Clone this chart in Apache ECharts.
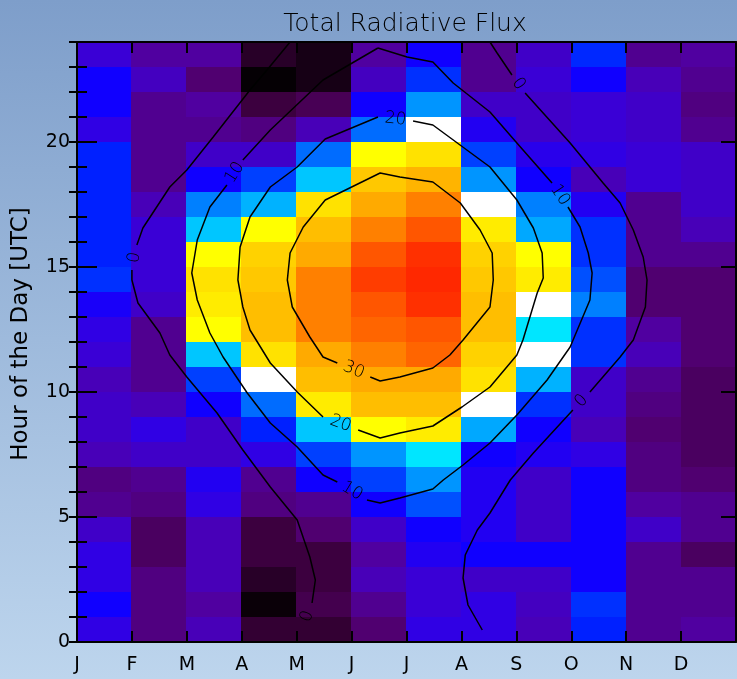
<!DOCTYPE html>
<html>
<head>
<meta charset="utf-8">
<title>Total Radiative Flux</title>
<script src="https://cdn.jsdelivr.net/npm/echarts@6/dist/echarts.min.js"></script>
<style>
  html, body { margin: 0; padding: 0; }
  #chart { width: 737px; height: 679px; }
</style>
</head>
<body>
<div id="chart"></div>
<script>
// Month initials along the x axis (ticks sit on month boundaries)
const monthLetters = ['J', 'F', 'M', 'A', 'M', 'J', 'J', 'A', 'S', 'O', 'N', 'D'];
// Labelled hour ticks on the y axis
const hourTicks = [0, 5, 10, 15, 20];
const allHours = Array.from({ length: 25 }, (_, i) => i);
const monthEdges = Array.from({ length: 13 }, (_, i) => i);

// Mean flux per month, hour 0 UTC first
const jan = [1, 3, 1, 1, -1, -4, -5, -2, -1, -1, -2, 0, 1, 2.5, 5, 4, 4, 4, 4, 4, 1, 3, 3, 0];
const feb = [-5, -5, -5, -7, -7, -5, -4, -1, 1, -2, -4, -4, -4, -1, 0, 0, 0, -2, -4, -4, -4, -4, -1.5, -3];
const mar = [-2, -3, -2, -2, -2, 1, 2, -1, -1, 3, 6, 12.5, 17, 19, 20, 17, 12.5, 8.5, 3, -1, -4, -3, -6, -3];
const apr = [-10.5, -14, -11.5, -9.5, -9.5, -5, -4, 1, 4, 7.5, 16, 20, 25, 25, 24, 22, 17, 11.5, 6, -1, -5, -9.5, -14.5, -11.5];
const may = [-10.5, -8.5, -9.5, -9.5, -6, -4, 3, 6, 12.5, 19, 25, 27, 31, 31, 31, 27, 25, 20, 12.5, 7.5, -2, -8, -13, -13];
const jun = [-6, -4, -2, -3, -1, 3, 6, 10, 17, 25, 27, 31, 33.5, 35, 37.5, 35, 31, 27, 24, 17, 7.5, 3, -1.5, -3];
const jul = [1, 0, 0, 2, 3, 6.5, 10, 14, 19, 25, 27, 33.5, 35, 39, 40, 39, 35, 31, 26, 20, 16, 10, 5, 3];
const aug = [1, 1, -1, 3, 2, 2, 2, 3, 11, 16, 20, 22, 25, 25, 24, 22, 19, 16, 10, 6, 2, -1, -4, -4];
const sep = [-2, -1.5, -1, 3, -1, -1, -1, 2, 3, 5, 11.5, 16, 14, 16, 19, 17, 11, 8.5, 3, 1.5, -1, -1, 0, -1];
const oct = [4, 5, 3, 3, 3, 3, 3, 1, -2, -1, -1, 5, 5, 8.5, 6.5, 5, 5, 2, -2, 1, 0, 0, 3, 4.5];
const nov = [-4, -4, -4, -4, -1, -3, -5, -5, -6, -5, -4, -2, -3, -6, -6, -4, -4, -4, 0, 0, -1, -1, -2, -4];
const dec = [-3, -4, -4, -7, -4, -4, -6, -7, -7, -7, -7, -6, -6, -6, -6, -4, -2, -1, -1, -1, -4, -5, -4, -3];
const fluxByMonth = [jan, feb, mar, apr, may, jun, jul, aug, sep, oct, nov, dec];

// Contour paths as [month, hour] points; null marks where the level label sits
const contourLevels = [0, 10, 20, 30, 0];
const contour0West = [
  [3.88, 24.0], [3.46, 22.88], [3.15, 22.08], [2.48, 20.2], [2.0, 18.88], [1.69, 18.2],
  [1.2, 16.56], [1.09, 15.88], null, [1.0, 14.88], [1.0, 14.48], [1.11, 13.56],
  [1.51, 12.36], [1.69, 11.48], [2.0, 10.6], [2.55, 9.16], [3.02, 7.68], [3.52, 6.2],
  [4.01, 4.88], [4.24, 3.4], [4.34, 2.48], [4.28, 1.56], null, [4.1, 0.48]
];
const contour10 = [
  [5.48, 23.76], [4.48, 22.48], [3.52, 20.48], [3.02, 19.28], null, [2.73, 18.28],
  [2.42, 17.4], [2.19, 16.08], [2.09, 14.76], [2.19, 13.68], [2.42, 12.36], [2.66, 11.4],
  [3.1, 9.96], [3.52, 8.76], [4.01, 7.8], [4.48, 6.68], [4.74, 6.4], null,
  [5.28, 5.68], [5.52, 5.56], [5.88, 5.76], [6.48, 6.12], [6.67, 6.48], [7.03, 7.08],
  [7.52, 7.96], [8.01, 9.08], [8.56, 10.48], [8.98, 11.8], [9.34, 13.68], [9.38, 14.76],
  [9.31, 15.56], [9.16, 16.6], [8.94, 17.4], null, [8.65, 18.36], [8.01, 19.96],
  [7.52, 21.2], [6.85, 22.36], [6.48, 23.2], [6.01, 23.4], [5.48, 23.76]
];
const contour20 = [
  [6.12, 20.84], [6.48, 20.68], [7.52, 19.0], [8.01, 17.68], [8.31, 16.56], [8.47, 15.56],
  [8.49, 14.56], [8.38, 13.96], [8.12, 12.08], [8.01, 11.48], [7.52, 10.2], [7.01, 9.4],
  [6.48, 8.64], [5.88, 8.36], [5.52, 8.16], [5.12, 8.48], null, [4.48, 9.0],
  [4.01, 10.0], [3.52, 11.16], [3.15, 12.48], [3.02, 13.4], [2.93, 14.48], [2.97, 15.8],
  [3.15, 17.0], [3.52, 18.2], [4.01, 19.0], [4.52, 20.12], [5.48, 21.0], null, [6.12, 20.84]
];
const contour30 = [
  [5.34, 10.6], [5.52, 10.44], [5.88, 10.6], [6.48, 10.96], [6.79, 11.48], [7.03, 12.08],
  [7.52, 13.4], [7.58, 14.48], [7.56, 15.56], [7.34, 16.48], [6.98, 17.56], [6.48, 18.4],
  [5.88, 18.6], [5.52, 18.76], [4.52, 17.68], [4.12, 16.6], [3.88, 15.56], [3.83, 14.48],
  [3.92, 13.4], [4.24, 12.2], [4.48, 11.4], [4.74, 11.16], null, [5.34, 10.6]
];
const contour0East = [
  [7.52, 24.0], [7.65, 23.56], [7.92, 22.68], null, [8.16, 21.96], [8.98, 19.96],
  [9.58, 18.36], [9.89, 17.56], [10.13, 16.48], [10.31, 15.4], [10.38, 14.48], [10.35, 13.4],
  [10.13, 12.08], [9.89, 11.4], [9.34, 10.0], null, [9.03, 9.28], [8.31, 7.56],
  [7.89, 6.48], [7.52, 5.16], [7.29, 4.48], [7.07, 3.48], [7.03, 2.56], [7.12, 1.48], [7.38, 0.48]
];
const contourPaths = [contour0West, contour10, contour20, contour30, contour0East];

// Colour scale: dark purple through blue and cyan, white, then yellow to red
const colourStops = [
  [-15, '#000000'], [-14, '#0a0008'], [-12, '#220022'], [-10, '#380038'], [-8, '#480055'],
  [-7, '#4a0060'], [-6, '#500070'], [-5, '#500080'], [-4, '#500090'], [-3, '#5000a0'],
  [-2, '#4800b8'], [-1, '#4000c8'], [0, '#3a00d6'], [1, '#3000e4'], [2, '#2200f2'],
  [3, '#1000ff'], [4, '#0020ff'], [5, '#0030ff'], [6, '#0040ff'], [7, '#0060ff'],
  [8, '#0078ff'], [9, '#0088ff'], [10, '#0095ff'], [11, '#00a8ff'], [12, '#00bcff'],
  [13, '#00cfff'], [14, '#00e6ff'], [15, '#00f0ff'], [16, '#ffffff'], [17, '#ffff00'],
  [20, '#ffe200'], [22, '#ffd200'], [24, '#ffc800'], [26, '#ffb400'], [28, '#ffa000'],
  [31, '#ff8000'], [34, '#ff6000'], [36, '#ff4c00'], [38, '#ff3800'], [40, '#ff2800']
];
function hexToRgb(h) {
  return [parseInt(h.slice(1, 3), 16), parseInt(h.slice(3, 5), 16), parseInt(h.slice(5, 7), 16)];
}
function colourAt(v) {
  if (v <= colourStops[0][0]) return colourStops[0][1];
  for (let i = 1; i < colourStops.length; i++) {
    const [v1, c1] = colourStops[i];
    if (v <= v1) {
      const [v0, c0] = colourStops[i - 1];
      const t = (v - v0) / (v1 - v0);
      const a = hexToRgb(c0), b = hexToRgb(c1);
      const mix = a.map((x, k) => Math.round(x + (b[k] - x) * t));
      return 'rgb(' + mix.join(',') + ')';
    }
  }
  return colourStops[colourStops.length - 1][1];
}

// Cell data: [month index, hour, flux]
const cells = [];
fluxByMonth.forEach((col, m) => col.forEach((v, h) => cells.push([m, h, v])));

// Split each contour into drawable segments and collect label spots at the gaps
const contourSeries = [];
const contourLabels = [];
contourPaths.forEach((path, ci) => {
  let seg = [];
  path.forEach((p, i) => {
    if (p === null) {
      contourSeries.push(seg);
      contourLabels.push({
        level: contourLevels[ci],
        from: path[i - 1],
        to: path[i + 1]
      });
      seg = [];
    } else {
      seg.push(p);
    }
  });
  if (seg.length) contourSeries.push(seg);
});

const textFont = 'DejaVu Sans';
const chart = echarts.init(document.getElementById('chart'));

const yBase = {
  type: 'value', min: 0, max: 24, z: 10,
  splitLine: { show: false }
};
const xBase = {
  type: 'value', min: 0, max: 12, z: 10,
  splitLine: { show: false }
};

chart.setOption({
  backgroundColor: {
    type: 'linear', x: 0, y: 0, x2: 0, y2: 1,
    colorStops: [
      { offset: 0, color: '#7e9eca' },
      { offset: 0.5, color: '#9ebadc' },
      { offset: 1, color: '#bdd5ed' }
    ]
  },
  animation: false,
  title: {
    text: 'Total Radiative Flux',
    left: 400,
    top: 7,
    textAlign: 'center',
    textStyle: { fontFamily: textFont, fontSize: 25, fontWeight: 'lighter', color: '#000' }
  },
  grid: { left: 77, right: 1, top: 42, bottom: 37, outerBoundsMode: 'none', containLabel: false },
  xAxis: [
    Object.assign({}, xBase, {
      position: 'bottom',
      axisLine: { show: true, onZero: false, lineStyle: { color: '#000', width: 2 } },
      axisTick: { show: true, inside: true, length: 11, customValues: monthEdges, lineStyle: { color: '#000', width: 2 } },
      axisLabel: {
        show: true, margin: 14, customValues: monthEdges.slice(0, 12),
        formatter: v => monthLetters[v] || '',
        fontFamily: textFont, fontSize: 19, color: '#000'
      }
    }),
    Object.assign({}, xBase, {
      position: 'top',
      axisLine: { show: true, onZero: false, lineStyle: { color: '#000', width: 2 } },
      axisTick: { show: true, inside: true, length: 11, customValues: monthEdges, lineStyle: { color: '#000', width: 2 } },
      axisLabel: { show: false }
    })
  ],
  yAxis: [
    Object.assign({}, yBase, {
      position: 'left',
      name: 'Hour of the Day [UTC]',
      nameLocation: 'middle',
      nameGap: 44,
      nameTextStyle: { fontFamily: textFont, fontSize: 23, color: '#000', padding: [0, 0, 0, 16] },
      axisLine: { show: true, onZero: false, lineStyle: { color: '#000', width: 2 } },
      axisTick: { show: true, inside: true, length: 20, customValues: hourTicks, lineStyle: { color: '#000', width: 2 } },
      axisLabel: {
        show: true, margin: 7, customValues: hourTicks,
        fontFamily: textFont, fontSize: 19, color: '#000'
      }
    }),
    Object.assign({}, yBase, {
      position: 'left',
      axisLine: { show: false },
      axisTick: { show: true, inside: true, length: 10, customValues: allHours, lineStyle: { color: '#000', width: 2 } },
      axisLabel: { show: false }
    }),
    Object.assign({}, yBase, {
      position: 'right',
      axisLine: { show: true, onZero: false, lineStyle: { color: '#000', width: 2 } },
      axisTick: { show: true, inside: true, length: 15, customValues: hourTicks, lineStyle: { color: '#000', width: 2 } },
      axisLabel: { show: false }
    }),
    Object.assign({}, yBase, {
      position: 'right',
      axisLine: { show: false },
      axisTick: { show: true, inside: true, length: 8, customValues: allHours, lineStyle: { color: '#000', width: 2 } },
      axisLabel: { show: false }
    })
  ],
  series: [
    {
      type: 'custom',
      name: 'flux',
      xAxisIndex: 0,
      yAxisIndex: 0,
      encode: { x: 0, y: 1 },
      data: cells,
      z: 1,
      renderItem: (params, api) => {
        const m = api.value(0), h = api.value(1);
        const p0 = api.coord([m, h + 1]);
        const p1 = api.coord([m + 1, h]);
        const x0 = Math.floor(p0[0]), y0 = Math.floor(p0[1]);
        const x1 = Math.ceil(p1[0]), y1 = Math.ceil(p1[1]);
        return {
          type: 'rect',
          shape: { x: x0, y: y0, width: x1 - x0, height: y1 - y0 },
          style: { fill: colourAt(api.value(2)) }
        };
      }
    }
  ].concat(contourSeries.map(seg => ({
    type: 'line',
    xAxisIndex: 0,
    yAxisIndex: 0,
    data: seg,
    z: 3,
    symbol: 'none',
    silent: true,
    smooth: false,
    lineStyle: { color: '#000', width: 1.5 }
  }))).concat([
    {
      type: 'custom',
      name: 'contour labels',
      xAxisIndex: 0,
      yAxisIndex: 0,
      z: 4,
      silent: true,
      data: contourLabels.map(l => [(l.from[0] + l.to[0]) / 2, (l.from[1] + l.to[1]) / 2]),
      renderItem: (params, api) => {
        const lab = contourLabels[params.dataIndex];
        const a = api.coord(lab.from), b = api.coord(lab.to);
        let theta = Math.atan2(b[1] - a[1], b[0] - a[0]);
        if (theta > Math.PI / 2) theta -= Math.PI;
        if (theta < -Math.PI / 2) theta += Math.PI;
        const c = api.coord([api.value(0), api.value(1)]);
        return {
          type: 'text',
          x: c[0], y: c[1],
          rotation: -theta,
          style: {
            text: String(lab.level),
            x: 0, y: 0,
            align: 'center', verticalAlign: 'middle',
            fontFamily: textFont, fontSize: 17, fontWeight: 'lighter', fill: '#000'
          }
        };
      }
    }
  ])
});
</script>
</body>
</html>
